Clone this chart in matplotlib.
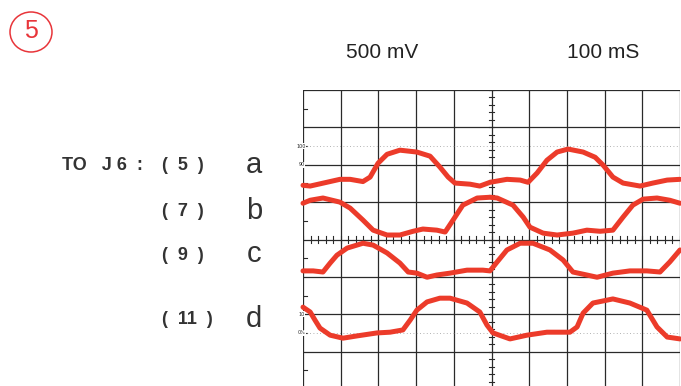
import matplotlib
matplotlib.use("Agg")
import matplotlib.pyplot as plt
from matplotlib.patches import Ellipse

W, H = 681, 386

a_x = [0.00, 0.19, 0.98, 1.25, 1.59, 1.78, 1.99, 2.23, 2.57, 3.02, 3.37, 3.63, 3.85, 4.03, 4.43, 4.69,
       4.96, 5.41, 5.76, 5.97, 6.21, 6.47, 6.74, 7.03, 7.43, 7.75, 7.96, 8.22, 8.49, 8.94, 9.28, 9.66, 10.0]
a_y = [5.45, 5.43, 5.61, 5.61, 5.55, 5.67, 6.04, 6.28, 6.39, 6.34, 6.23, 5.94, 5.67, 5.51, 5.48, 5.43,
       5.53, 5.61, 5.59, 5.53, 5.78, 6.12, 6.34, 6.42, 6.34, 6.20, 5.99, 5.67, 5.51, 5.43, 5.51, 5.59, 5.61]

b_x = [0.00, 0.19, 0.53, 0.98, 1.25, 1.59, 1.86, 2.23, 2.57, 2.92, 3.18, 3.55, 3.77, 3.98, 4.24, 4.62,
       4.96, 5.15, 5.57, 5.84, 6.02, 6.37, 6.74, 7.16, 7.53, 7.88, 8.22, 8.49, 8.75, 9.02, 9.39, 9.73, 10.0]
b_y = [4.97, 5.05, 5.11, 5.00, 4.84, 4.52, 4.25, 4.12, 4.12, 4.22, 4.28, 4.25, 4.20, 4.52, 4.92, 5.11,
       5.13, 5.11, 4.92, 4.60, 4.33, 4.17, 4.12, 4.17, 4.25, 4.22, 4.25, 4.60, 4.92, 5.08, 5.11, 5.05, 4.97]

c_x = [0.00, 0.27, 0.53, 0.72, 0.90, 1.17, 1.59, 1.86, 2.23, 2.57, 2.79, 3.02, 3.29, 3.55, 3.90, 4.35,
       4.77, 4.96, 5.15, 5.41, 5.76, 6.10, 6.55, 6.90, 7.16, 7.53, 7.80, 8.22, 8.67, 9.12, 9.47, 9.73, 10.0]
c_y = [3.16, 3.16, 3.13, 3.37, 3.58, 3.77, 3.90, 3.85, 3.64, 3.37, 3.13, 3.10, 2.99, 3.05, 3.10, 3.18,
       3.18, 3.16, 3.40, 3.72, 3.90, 3.90, 3.72, 3.45, 3.13, 3.05, 2.99, 3.10, 3.16, 3.16, 3.13, 3.40, 3.72]

d_x = [0.00, 0.19, 0.32, 0.45, 0.72, 1.06, 1.43, 1.96, 2.31, 2.65, 2.84, 3.02, 3.29, 3.63, 3.90, 4.35,
       4.69, 4.88, 5.04, 5.49, 5.94, 6.47, 7.08, 7.27, 7.43, 7.69, 8.22, 8.67, 9.12, 9.39, 9.66, 10.0]
d_y = [2.19, 2.06, 1.84, 1.63, 1.44, 1.36, 1.42, 1.50, 1.52, 1.58, 1.84, 2.11, 2.33, 2.43, 2.43, 2.30,
       2.06, 1.71, 1.50, 1.34, 1.44, 1.52, 1.52, 1.66, 2.03, 2.30, 2.41, 2.30, 2.11, 1.66, 1.39, 1.34]

pins = ["(  5  )", "(  7  )", "(  9  )", "(  11  )"]
letters = ["a", "b", "c", "d"]
row_y = [166, 212, 255, 320]          # label rows, px from top
settings = ["500 mV", "100 mS"]

TRACE = "#ec3b2a"
INK = "#2a2a2a"


def fx(px):
    return px / W


def fy(py):
    return 1 - py / H


fig = plt.figure(figsize=(W / 100, H / 100), dpi=100)

# graticule: 10 x 8 divisions, bottom row runs off the page
ax = fig.add_axes([fx(303), fy(389), (680 - 303) / W, (389 - 90) / H])
ax.set_xlim(0, 10)
ax.set_ylim(0, 8)
ax.axis("off")

for i in range(11):
    ax.axvline(i, color=INK, lw=0.9, zorder=1)
for j in range(9):
    ax.axhline(j, color=INK, lw=0.9, zorder=1)

# minor ticks on the centre lines
for k in range(51):
    t = k * 0.2
    ax.plot([t, t], [3.9, 4.1], color=INK, lw=0.8, zorder=1)
for k in range(41):
    t = k * 0.2
    ax.plot([4.93, 5.07], [t, t], color=INK, lw=0.8, zorder=1)
for j in range(8):
    ax.plot([0, 0.1], [j + 0.5, j + 0.5], color=INK, lw=0.8, zorder=1)

# rise-time reference levels
ax.axhline(6.5, color="#999999", lw=0.6, ls=(0, (1, 3)), zorder=1)
ax.axhline(1.5, color="#999999", lw=0.6, ls=(0, (1, 3)), zorder=1)
for lbl, yv in [("100", 6.5), ("90", 6.0), ("10", 2.0), ("0%", 1.5)]:
    ax.text(-0.04, yv, lbl, fontsize=3.5, ha="center", va="center", color=INK,
            bbox=dict(facecolor="white", edgecolor="none", pad=0.2), zorder=2)

for xs, ys in [(a_x, a_y), (b_x, b_y), (c_x, c_y), (d_x, d_y)]:
    ax.plot(xs, ys, color=TRACE, lw=3.6, solid_capstyle="round",
            solid_joinstyle="round", zorder=3, clip_on=False)

# header
fig.text(fx(382), fy(52), settings[0], fontsize=15, family="Liberation Sans",
         ha="center", va="center", color="#222222")
fig.text(fx(603), fy(52), settings[1], fontsize=15, family="Liberation Sans",
         ha="center", va="center", color="#222222")

# circled step number
fig.patches.append(Ellipse((fx(31), fy(32)), 42 / W, 40 / H, transform=fig.transFigure,
                           fill=False, edgecolor="#e8353a", lw=1.1))
fig.text(fx(31), fy(31), "5", fontsize=18, family="Liberation Sans",
         ha="center", va="center", color="#e8353a")

# channel labels
fig.text(fx(62), fy(166), "TO   J 6  :", fontsize=13, family="Liberation Sans",
         fontweight="bold", ha="left", va="center", color="#333333")
for lbl, let, yy in zip(pins, letters, row_y):
    fig.text(fx(162), fy(yy), lbl, fontsize=13, family="Liberation Sans",
             fontweight="bold", ha="left", va="center", color="#333333")
    fig.text(fx(254), fy(yy - 1), let, fontsize=21, family="Liberation Sans",
             ha="center", va="center", color="#333333")

fig.savefig("out.png", dpi=100)
